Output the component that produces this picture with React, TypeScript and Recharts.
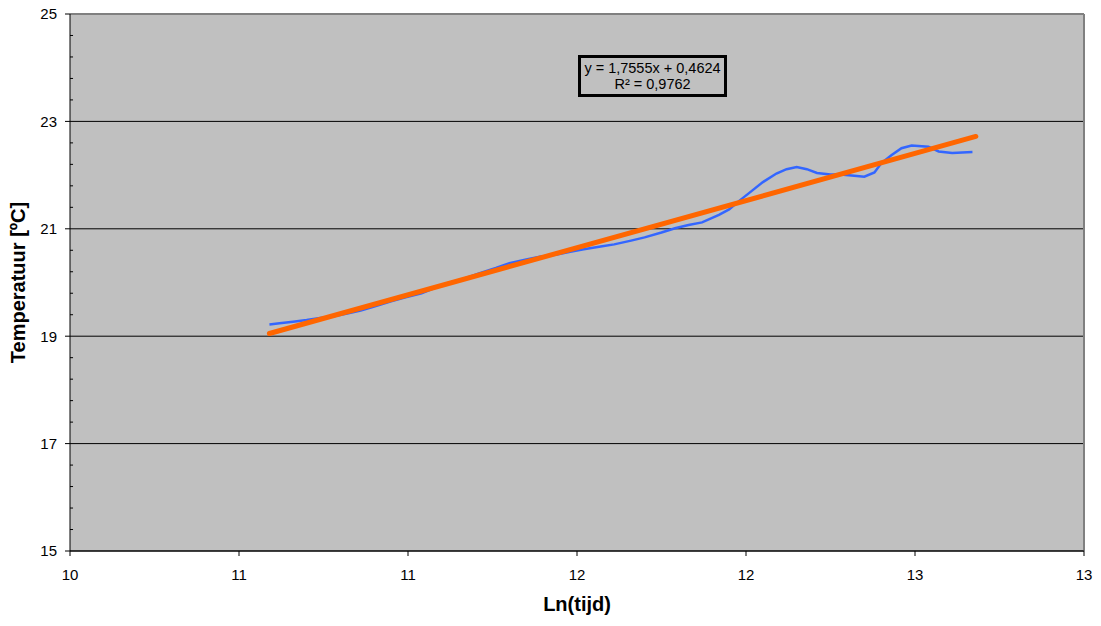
import React from 'react';
import { LineChart, Line, XAxis, YAxis, CartesianGrid, ReferenceLine, Label } from 'recharts';

// measured temperature vs ln(time)
const lnTijd = [
  10.59, 10.62, 10.66, 10.70, 10.74, 10.78, 10.82, 10.86, 10.90, 10.95,
  10.99, 11.04, 11.08, 11.12, 11.17, 11.21, 11.26, 11.30, 11.35, 11.39,
  11.44, 11.48, 11.52, 11.57, 11.61, 11.66, 11.70, 11.75, 11.79, 11.83,
  11.87, 11.92, 11.95, 11.98, 12.02, 12.05, 12.09, 12.12, 12.15, 12.18,
  12.21, 12.25, 12.28, 12.32, 12.35, 12.38, 12.40, 12.43, 12.46, 12.49,
  12.54, 12.57, 12.61, 12.67,
];
const temperatuur = [
  19.22, 19.24, 19.27, 19.30, 19.34, 19.37, 19.42, 19.48, 19.55, 19.65,
  19.72, 19.80, 19.90, 19.99, 20.08, 20.17, 20.27, 20.36, 20.43, 20.48,
  20.52, 20.57, 20.62, 20.67, 20.71, 20.78, 20.84, 20.93, 21.01, 21.07,
  21.12, 21.26, 21.36, 21.52, 21.72, 21.87, 22.03, 22.11, 22.15, 22.11,
  22.04, 22.01, 22.01, 21.99, 21.97, 22.05, 22.22, 22.37, 22.50, 22.55,
  22.53, 22.44, 22.41, 22.43,
];

// linear trendline end points
const trendX = [10.59, 12.68];
const trendY = [19.05, 22.72];

const xTicks = [10, 10.5, 11, 11.5, 12, 12.5, 13];
const xTickLabels = ['10', '11', '11', '12', '12', '13', '13'];
const yTicks = [15, 17, 19, 21, 23, 25];
const yMinorTicks = [
  15.4, 15.8, 16.2, 16.6, 17.4, 17.8, 18.2, 18.6, 19.4, 19.8,
  20.2, 20.6, 21.4, 21.8, 22.2, 22.6, 23.4, 23.8, 24.2, 24.6,
];

const measured = lnTijd.map((x, i) => ({ x, y: temperatuur[i] }));
const trend = trendX.map((x, i) => ({ x, y: trendY[i] }));

const font = '"Liberation Sans", Arial, sans-serif';

const App: React.FC = () => {
  return (
    <div style={{ position: 'absolute', left: 0, top: 0, width: 1101, height: 626, background: '#fff', fontFamily: font }}>
      <LineChart width={1101} height={626} margin={{ top: 14, right: 17, bottom: 0, left: 0 }}>
        <CartesianGrid vertical={false} stroke="#000" fill="#C0C0C0" fillOpacity={1} />
        <XAxis
          type="number"
          dataKey="x"
          domain={[10, 13]}
          ticks={xTicks}
          tickFormatter={(v: number, i: number) => xTickLabels[i]}
          height={75}
          tickSize={5}
          tickMargin={13}
          axisLine={{ stroke: '#000' }}
          tickLine={{ stroke: '#000' }}
          tick={{ fill: '#000', fontSize: 15, fontFamily: font }}
          allowDataOverflow
        >
          <Label value="Ln(tijd)" position="insideBottom" offset={15}
            style={{ fill: '#000', fontSize: 20, fontWeight: 'bold', fontFamily: font }} />
        </XAxis>
        <YAxis
          type="number"
          dataKey="y"
          domain={[15, 25]}
          ticks={yTicks}
          width={70}
          tickSize={5}
          tickMargin={8}
          axisLine={{ stroke: '#000' }}
          tickLine={{ stroke: '#000' }}
          tick={{ fill: '#000', fontSize: 15, fontFamily: font }}
          allowDataOverflow
        >
          <Label value="Temperatuur [ºC]" angle={-90} position="insideLeft" offset={18}
            style={{ fill: '#000', fontSize: 20, fontWeight: 'bold', fontFamily: font, textAnchor: 'middle' }} />
        </YAxis>
        <ReferenceLine y={25} stroke="#808080" strokeWidth={2} />
        <ReferenceLine x={13} stroke="#808080" strokeWidth={2} />
        {yMinorTicks.map((v) => (
          <ReferenceLine key={v} segment={[{ x: 10, y: v }, { x: 10.009, y: v }]} stroke="#000" />
        ))}
        <Line data={measured} dataKey="y" type="linear" stroke="#3366FF" strokeWidth={2.5}
          dot={false} isAnimationActive={false} />
        <Line data={trend} dataKey="y" type="linear" stroke="#FF6600" strokeWidth={5}
          strokeLinecap="round" dot={false} isAnimationActive={false} />
      </LineChart>
      <div style={{
        position: 'absolute', left: 578, top: 55, width: 149, height: 42, boxSizing: 'border-box',
        border: '3px solid #000', display: 'flex', flexDirection: 'column', alignItems: 'center',
        justifyContent: 'center', fontSize: 14.5, lineHeight: '16px', color: '#000', whiteSpace: 'nowrap',
      }}>
        <div>y = 1,7555x + 0,4624</div>
        <div>R² = 0,9762</div>
      </div>
    </div>
  );
};

export default App;
